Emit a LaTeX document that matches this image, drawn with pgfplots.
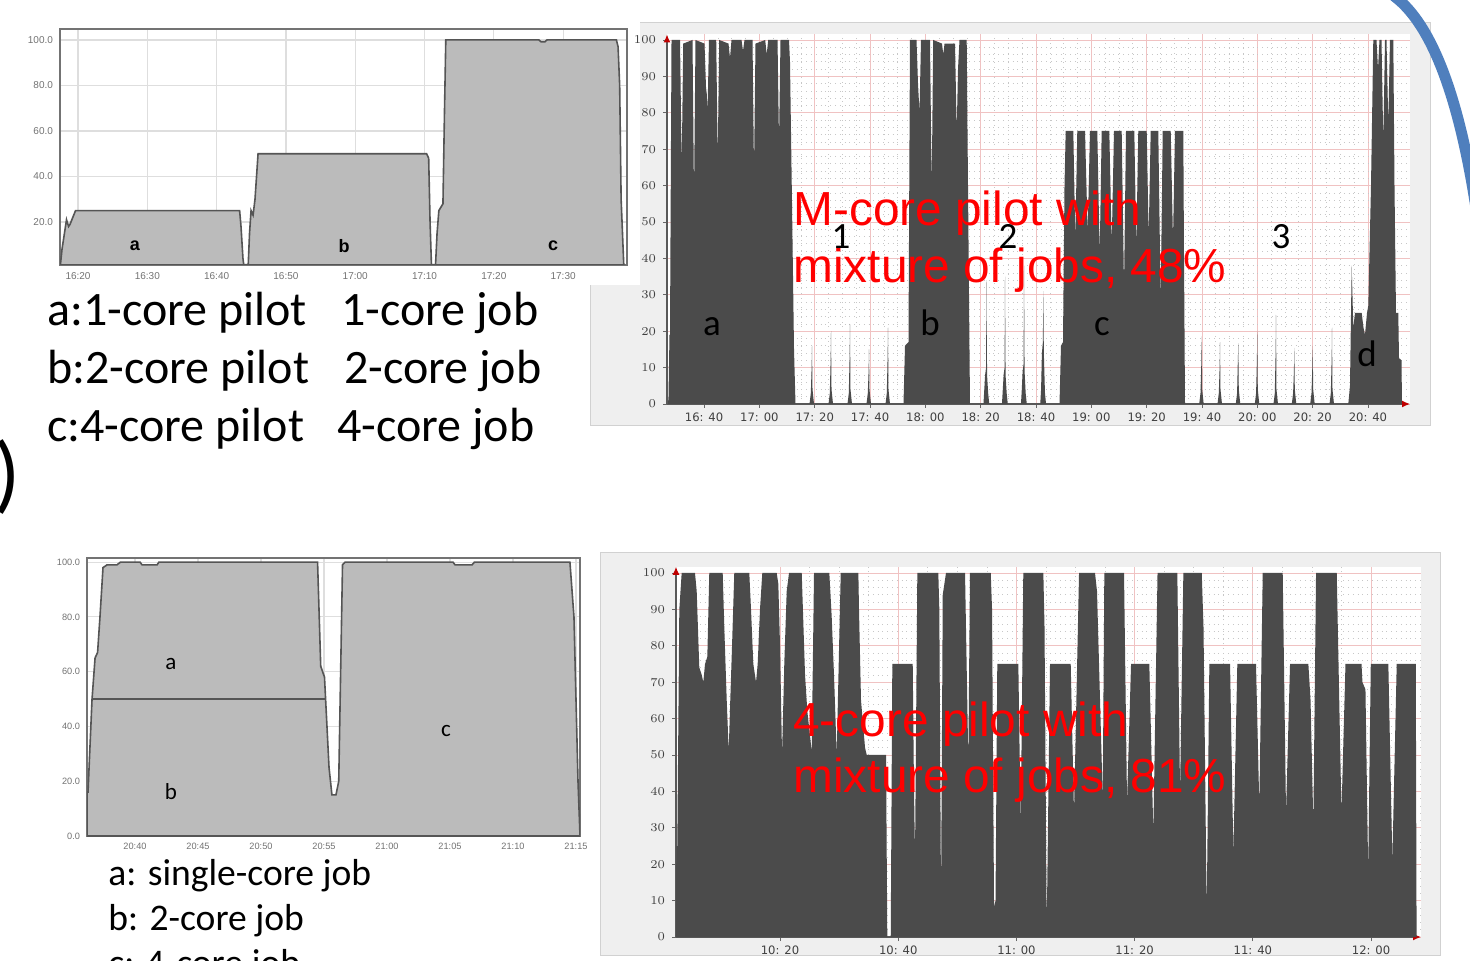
\documentclass[border=0pt]{standalone}
\usepackage{fontspec}
\setmainfont{Carlito}
\newfontfamily\arialf{Liberation Sans}
\newfontfamily\dejavu{DejaVu Sans}
\usepackage{pgfplots}
\pgfplotsset{compat=1.18}
\usetikzlibrary{arrows.meta}
\definecolor{lgray}{HTML}{BBBBBB}
\definecolor{lineg}{HTML}{555555}
\definecolor{darkfill}{HTML}{4B4B4B}
\definecolor{panel}{HTML}{EFEFEF}
\definecolor{pinkgrid}{HTML}{F0C2C2}
\definecolor{bluearc}{HTML}{4F7FBD}
\definecolor{redtxt}{HTML}{FF0000}
\pgfplotsset{
  lightchart/.style={scale only axis, anchor=south west,
    grid=major, major grid style={draw=black!13, line width=0.6pt},
    axis line style={draw=black!55, line width=0.9pt},
    xtick style={draw=none}, ytick style={draw=none},
    ticklabel style={font=\arialf\fontsize{5}{6}\selectfont, text=black!55},
    axis background/.style={fill=white}},
  darkchart/.style={scale only axis, anchor=south west,
    axis lines=left,
    every outer x axis line/.append style={-{Latex[length=4pt,width=3.5pt,color=red!75!black,fill=red!75!black]}},
    every outer y axis line/.append style={-{Latex[length=4pt,width=3.5pt,color=red!75!black,fill=red!75!black]}},
    axis line style={draw=black!65, line width=0.6pt},
    grid=both, major grid style={draw=pinkgrid, line width=0.4pt},
    minor grid style={draw=black!22, dotted, line width=0.35pt},
    tick align=outside, major tick length=2pt, minor tick length=0pt,
    tick style={draw=black!60, line width=0.4pt},
    ticklabel style={font=\dejavu\fontsize{5.8}{6.5}\selectfont, text=black!75},
    xticklabel style={yshift=1pt},
    axis background/.style={fill=white}}
}
\begin{document}
\begin{tikzpicture}
\path[use as bounding box] (0,0) rectangle (735pt,-480.5pt);
\fill[white] (0,0) rectangle (735pt,-480.5pt);
% grey panels
\fill[panel, draw=black!18, line width=0.4pt] (295pt,-11pt) rectangle (715pt,-212.5pt);
\fill[white] (0,0) rectangle (320pt,-142.5pt);
\fill[panel, draw=black!18, line width=0.4pt] (300pt,-276pt) rectangle (720pt,-477.5pt);

% ---------- chart 1 (top left)
\begin{axis}[lightchart, at={(30pt,-132.5pt)}, width=283.5pt, height=118pt,
  xmin=17.40, xmax=99.22, ymin=1.1, ymax=104.8,
  xtick={20,30,40,50,60,70,80,90},
  xticklabels={16:20,16:30,16:40,16:50,17:00,17:10,17:20,17:30},
  ytick={20,40,60,80,100}, yticklabels={20.0,40.0,60.0,80.0,100.0}]
\addplot[fill=lgray, draw=lineg, line width=0.8pt] coordinates {
(17.46,1.2)(17.69,8)(18.34,21)(18.64,18)(18.85,19)(19.64,25)
(43.32,25)(43.52,18)(43.80,4)(43.91,1.2)
(44.56,1.2)(44.75,15)(44.97,25)(45.26,23)(45.54,30)(45.98,50)
(70.30,50)(70.60,48)(70.80,20)(71.00,1.2)
(71.59,1.2)(71.81,15)(72.07,25)(72.66,28)(72.89,70)(73.07,100)
(86.50,100)(86.81,99.2)(87.39,99.2)(87.67,100)
(97.69,100)(97.93,97)(98.16,80)(98.37,30)(98.75,1.2)} \closedcycle;
\end{axis}
\node[font=\arialf\bfseries\fontsize{9}{10}\selectfont] at (67.5pt,-123pt) {a};
\node[font=\arialf\bfseries\fontsize{9}{10}\selectfont] at (172pt,-123pt) {b};
\node[font=\arialf\bfseries\fontsize{9}{10}\selectfont] at (276.5pt,-123pt) {c};

% ---------- chart 2 (top right)
\begin{axis}[darkchart, at={(333.5pt,-202pt)}, width=371.5pt, height=184.75pt,
  xmin=26.6, xmax=295.2, ymin=0, ymax=101.5,
  xtick={40,60,80,100,120,140,160,180,200,220,240,260,280},
  xticklabels={{16: 40},{17: 00},{17: 20},{17: 40},{18: 00},{18: 20},{18: 40},{19: 00},{19: 20},{19: 40},{20: 00},{20: 20},{20: 40}},
  minor x tick num=3,
  ytick={0,10,20,30,40,50,60,70,80,90,100}, minor y tick num=4]
\addplot[fill=darkfill, draw=none] coordinates {
(26.96,0)(27.14,2)(27.5,19)(27.68,19)(28.23,100)
(31.30,100)(31.91,65)(32.46,99)
(35.82,100)(36.36,57)(36.90,100)
(40.16,99)(40.70,87)(41.00,85)(41.24,80)(41.78,100)
(44.39,100)(44.93,67)(45.47,100)
(48.83,99)(49.37,95)(49.92,100)
(53.53,100)(54.07,97)(54.62,100)
(57.51,100)(58.05,64)(58.59,99)
(62.10,100)(62.64,96)(63.18,100)
(66.55,100)(67.09,72)(67.63,100)
(70.70,100)(71.06,94)(71.79,55)(72.51,15)(73.05,0)
(78.12,0)(78.59,3)(78.88,10)(79.02,16)(79.20,4)(79.74,0)
(84.99,0)(85.46,3)(85.75,12)(85.89,20)(86.07,4)(86.61,0)
(91.85,0)(92.32,3)(92.61,13)(92.75,22)(92.93,4)(93.47,0)
(98.72,0)(99.19,3)(99.48,9)(99.62,15)(99.80,4)(100.34,0)
(105.59,0)(106.06,3)(106.35,13)(106.49,21)(106.67,4)(107.21,0)
(112.09,0)(112.64,16)(113.90,17)(114.44,100)
(116.79,100)(117.34,88)(117.88,80)(118.42,100)
(121.67,100)(122.29,59)(122.83,100)
(126.01,99)(126.48,96)(126.92,99)
(130.71,99)(131.33,75)(131.80,92)(132.34,100)
(134.94,100)(135.41,60)(136.13,0)
(141.0,0)(141.3,4)(141.6,8)(141.95,10)(142.10,34)(142.30,8)(142.70,3)(143.10,0)
(147.69,0)(147.99,4)(148.29,8)(148.64,10)(148.79,35)(148.99,8)(149.39,3)(149.79,0)
(154.56,0)(154.86,4)(155.16,9)(155.51,11)(155.66,38)(155.86,9)(156.26,3)(156.66,0)
(161.53,0)(161.83,4)(162.13,14)(162.48,17)(162.63,31)(162.83,14)(163.23,3)(163.63,0)
(168.49,0)(169.03,16)(169.75,17)(170.30,60)(170.73,75)
(173.48,75)(174.20,45)(174.92,75)
(177.71,75)(178.68,47)(179.51,75)
(182.15,75)(183.02,41)(183.74,75)
(186.49,75)(187.36,44)(188.19,75)
(190.97,75)(191.81,32)(192.53,75)
(195.53,75)(196.25,43)(196.97,75)
(200.01,75)(200.73,46)(201.46,75)
(204.20,75)(205.07,28)(205.80,75)
(208.69,75)(209.52,45)(210.24,75)
(213.24,75)(213.50,40)(213.86,0)
(218.99,0)(219.46,3)(219.75,11)(219.89,18.6)(220.07,4)(220.61,0)
(225.61,0)(226.08,3)(226.37,10)(226.51,17)(226.69,4)(227.23,0)
(232.22,0)(232.69,3)(232.90,10)(233.12,16.7)(233.30,4)(233.84,0)
(239.09,0)(239.56,3)(239.85,12)(239.99,20)(240.17,4)(240.71,0)
(245.85,0)(246.32,3)(246.61,14)(246.75,24.5)(246.93,4)(247.47,0)
(252.47,0)(252.94,3)(253.23,9)(253.37,15.4)(253.55,4)(254.09,0)
(259.12,0)(259.59,3)(259.88,10)(260.02,16)(260.20,4)(260.74,0)
(266.10,0)(266.57,3)(266.86,12)(267.00,21)(267.18,4)(267.72,0)
(272.89,0)(273.50,5)(274.12,38)(274.70,21)(275.31,25)(277.73,25)(278.38,21)(278.93,19)
(279.65,25)(280.12,27)(281.10,60)(281.93,100)(283.08,100)(283.63,92)(284.17,100)
(284.89,100)(285.54,72)(286.16,100)(286.70,100)(287.35,77)(287.96,100)(289.16,100)
(289.59,60)(290.13,25)(290.96,25)(291.22,12.6)(292.12,12)(292.30,0)} \closedcycle;
\end{axis}

% ---------- chart 3 (bottom left)
\begin{axis}[lightchart, at={(43.5pt,-418pt)}, width=246.5pt, height=139pt,
  xmin=36.19, xmax=75.32, ymin=0, ymax=101.5,
  xtick={40,45,50,55,60,65,70,75},
  xticklabels={20:40,20:45,20:50,20:55,21:00,21:05,21:10,21:15},
  ytick={0,20,40,60,80,100}, yticklabels={0.0,20.0,40.0,60.0,80.0,100.0},
  ticklabel style={font=\arialf\fontsize{4.6}{5}\selectfont}]
\addplot[fill=lgray, draw=lineg, line width=0.8pt] coordinates {
(36.19,16)(36.27,16)(36.59,50)(36.83,65)(37.03,67)(37.22,80)(37.46,98)(37.78,99)
(38.57,99)(38.85,100)(40.40,100)(40.56,99)(41.75,99)(41.90,100)
(54.49,100)(54.74,62)(55.04,58)(55.40,25)(55.63,15)(55.95,15)(56.17,20)(56.47,99)(56.67,100)
(65.24,100)(65.40,99)(66.75,99)(66.94,100)
(74.52,100)(74.84,80)(75.16,20)(75.32,0)} \closedcycle;
\addplot[draw=lineg, line width=0.8pt] coordinates {(36.59,50)(55.12,50)};
\end{axis}

% ---------- chart 4 (bottom right)
\begin{axis}[darkchart, at={(338pt,-468.5pt)}, width=372.5pt, height=185.1pt,
  xmin=2.4, xmax=128.45, ymin=0, ymax=101.7,
  xtick={20,40,60,80,100,120},
  xticklabels={{10: 20},{10: 40},{11: 00},{11: 20},{11: 40},{12: 00}},
  minor x tick num=3,
  ytick={0,10,20,30,40,50,60,70,80,90,100}, minor y tick num=4]
\addplot[fill=darkfill, draw=none] coordinates {
(2.40,0)(2.45,25)(2.62,25)(2.96,90)(3.36,100)
(5.61,100)(5.90,95)(6.34,74)(6.75,72)(7.02,70)(7.31,75)(7.70,77)(8.03,100)
(10.30,100)(10.57,85)(10.98,65)(11.32,51)(11.54,63)(11.88,80)(12.26,100)
(14.80,100)(15.09,90)(15.48,75)(15.94,70)(16.22,75)(16.61,90)(17.00,100)
(19.44,100)(19.71,97)(20.00,80)(20.34,50)(20.72,75)(21.13,95)(21.52,100)
(23.67,100)(24.23,72)(24.62,62)(25.36,51)(25.75,100)
(28.34,100)(28.74,88)(29.13,72)(29.59,50)(29.86,70)(30.27,100)
(33.25,100)(33.36,90)(33.70,65)(34.38,52)(34.67,50)
(37.93,50)(38.15,0)(38.73,0)(39.00,75)
(42.45,75)(42.67,40)(42.84,22)(43.23,100)
(46.78,100)(46.95,90)(47.24,9)(47.53,94)(48.08,100)
(51.30,100)(51.86,48)(52.14,100)
(55.65,100)(55.87,90)(56.21,8)(56.46,10)(56.76,75)
(60.32,75)(60.72,30)(61.16,100)
(64.55,100)(64.75,85)(65.12,2)(65.68,75)
(69.18,75)(69.74,34)(70.59,100)
(73.29,100)(73.63,95)(74.60,38)(74.87,100)
(78.20,100)(78.71,37)(79.39,75)
(82.48,75)(83.16,28.6)(83.87,100)
(87.22,100)(87.68,39.5)(88.24,100)
(91.35,100)(91.65,85)(92.19,6.7)(92.64,75)
(96.14,75)(96.70,23)(97.37,75)
(100.53,75)(101.09,36)(101.67,100)
(105.05,100)(105.61,34)(106.29,75)
(109.39,75)(109.76,65)(110.23,31)(110.69,100)
(114.19,100)(114.99,34)(115.67,75)
(118.38,75)(118.54,70)(119.05,68)(119.51,18)(119.95,75)
(122.92,75)(123.60,21)(124.34,75)
(127.56,75)(127.70,0)} \closedcycle;
\end{axis}

% ---------- texts
\begin{scope}[every node/.style={inner sep=0pt, anchor=base west, font=\fontsize{24}{28}\selectfont}]
\node at (23.5pt,-163pt) {a:1-core pilot};
\node at (170.5pt,-163pt) {1-core job};
\node at (23.5pt,-192pt) {b:2-core pilot};
\node at (172pt,-192pt) {2-core job};
\node at (23.5pt,-221pt) {c:4-core pilot};
\node at (168.5pt,-221pt) {4-core job};
\end{scope}
\node[inner sep=0pt, anchor=base west, font=\fontsize{43}{45}\selectfont] at (-3pt,-251.5pt) {)};
\begin{scope}[every node/.style={inner sep=0pt, anchor=base west, font=\fontsize{18.8}{22}\selectfont}]
\node at (54pt,-442.5pt) {a: single-core job};
\node at (54pt,-465pt) {b: 2-core job};
\node at (54pt,-487.5pt) {c: 4-core job};
\end{scope}
\begin{scope}[every node/.style={inner sep=0pt, font=\fontsize{11.5}{12}\selectfont}]
\node at (85.5pt,-332pt) {a};
\node at (85.5pt,-396pt) {b};
\node at (223pt,-365.5pt) {c};
\end{scope}
\begin{scope}[every node/.style={inner sep=0pt, anchor=base west, text=redtxt, font=\arialf\fontsize{23.9}{26}\selectfont}]
\node at (396.5pt,-113pt) {M-core pilot with};
\node at (396.5pt,-141.5pt) {mixture of jobs, 48\%};
\node at (396.5pt,-368pt) {4-core pilot with};
\node at (396.5pt,-396pt) {mixture of jobs, 81\%};
\end{scope}
\begin{scope}[every node/.style={inner sep=0pt, anchor=base, font=\fontsize{18.5}{20}\selectfont}]
\node at (420.5pt,-124.5pt) {1};
\node at (504pt,-124.5pt) {2};
\node at (640.5pt,-124.5pt) {3};
\node at (356pt,-168pt) {a};
\node at (465pt,-168pt) {b};
\node at (551pt,-168pt) {c};
\node at (683.5pt,-183.5pt) {d};
\end{scope}
% blue arc decoration
\begin{scope}
\clip (0,0) rectangle (735pt,-480.5pt);
\draw[bluearc, line width=5.5pt] (697pt,2pt) .. controls (716pt,-12pt) and (731pt,-50pt) .. (740pt,-118pt);
\end{scope}
\end{tikzpicture}
\end{document}
